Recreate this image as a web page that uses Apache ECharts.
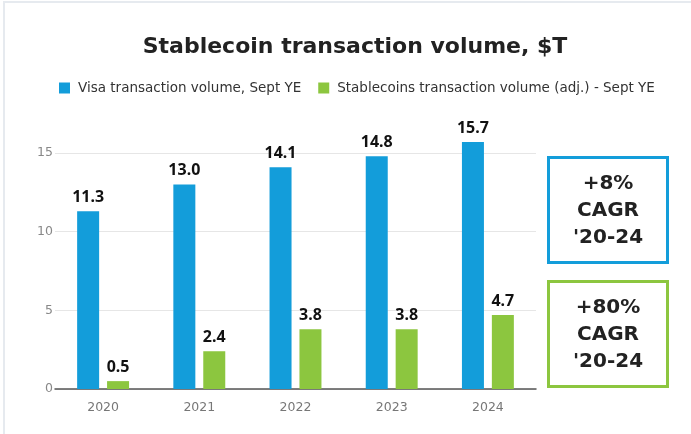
<!DOCTYPE html>
<html style="height: 100%">
<head>
<meta charset="utf-8">
</head>
<body style="height: 100%; margin: 0; background: #fff">
<div id="container" style="width: 691px; height: 434px"></div>
<script src="https://cdn.jsdelivr.net/npm/echarts@6/dist/echarts.min.js"></script>
<script>
var years = ['2020', '2021', '2022', '2023', '2024'];
var visaVolume = [11.3, 13.0, 14.1, 14.8, 15.7];
var stableVolume = [0.5, 2.4, 3.8, 3.8, 4.7];
var visaName = 'Visa transaction volume, Sept YE';
var stableName = 'Stablecoins transaction volume (adj.) - Sept YE';
var visaCagr = ['+8%', 'CAGR', "'20-24"];
var stableCagr = ['+80%', 'CAGR', "'20-24"];

var blue = '#139dda';
var green = '#8cc63f';
var fontFamily = '"DejaVu Sans", sans-serif';
var labelFont = '"Noto Sans", sans-serif';

var chart = echarts.init(document.getElementById('container'));

function cagrBox(top, color, lines) {
    return {
        type: 'group',
        left: 547,
        top: top,
        children: [
            {
                type: 'rect',
                shape: { x: 0, y: 0, width: 119, height: 105 },
                style: { fill: '#fff', stroke: color, lineWidth: 3 }
            },
            {
                type: 'text',
                x: 59.5,
                y: 53,
                style: {
                    text: lines.join('\n'),
                    fill: '#222',
                    font: 'bold 20px ' + fontFamily,
                    lineHeight: 27,
                    align: 'center',
                    verticalAlign: 'middle'
                }
            }
        ]
    };
}

var labelStyle = {
    show: true,
    position: 'top',
    distance: 6,
    color: '#111',
    fontWeight: 'bold',
    fontSize: 16,
    fontFamily: labelFont,
    formatter: function (p) { return p.value.toFixed(1); }
};

var option = {
    animation: false,
    textStyle: { fontFamily: fontFamily },
    title: {
        text: 'Stablecoin transaction volume, $T',
        left: 350,
        textAlign: 'center',
        top: 31,
        textStyle: { fontSize: 22, fontWeight: 'bold', color: '#222', fontFamily: fontFamily }
    },
    legend: {
        top: 76,
        left: 54,
        icon: 'rect',
        itemWidth: 11,
        itemHeight: 11,
        itemGap: 17,
        textStyle: { fontSize: 13.5, color: '#333', fontFamily: fontFamily, padding: [0, 0, 0, 3] },
        data: [visaName, stableName]
    },
    grid: {
        left: 55,
        right: 155,
        top: 153,
        bottom: 45
    },
    xAxis: {
        type: 'category',
        data: years,
        axisTick: { show: false },
        axisLine: { lineStyle: { color: '#555', width: 1.5 } },
        axisLabel: { color: '#777', fontSize: 12.5, margin: 12 }
    },
    yAxis: {
        type: 'value',
        min: 0,
        max: 15,
        interval: 5,
        axisLabel: { color: '#888', fontSize: 12.5, margin: 2 },
        splitLine: { lineStyle: { color: '#e6e6e6' } }
    },
    series: [
        {
            name: visaName,
            type: 'bar',
            data: visaVolume,
            barWidth: 22,
            barGap: '36%',
            clip: false,
            itemStyle: { color: blue },
            label: labelStyle
        },
        {
            name: stableName,
            type: 'bar',
            data: stableVolume,
            barWidth: 22,
            clip: false,
            itemStyle: { color: green },
            label: labelStyle
        }
    ],
    graphic: [
        {
            type: 'rect',
            shape: { x: 4, y: 2, width: 800, height: 800 },
            style: { fill: 'none', stroke: '#e6eaef', lineWidth: 2 },
            silent: true
        },
        cagrBox(156, blue, visaCagr),
        cagrBox(280, green, stableCagr)
    ]
};

chart.setOption(option);
</script>
</body>
</html>
